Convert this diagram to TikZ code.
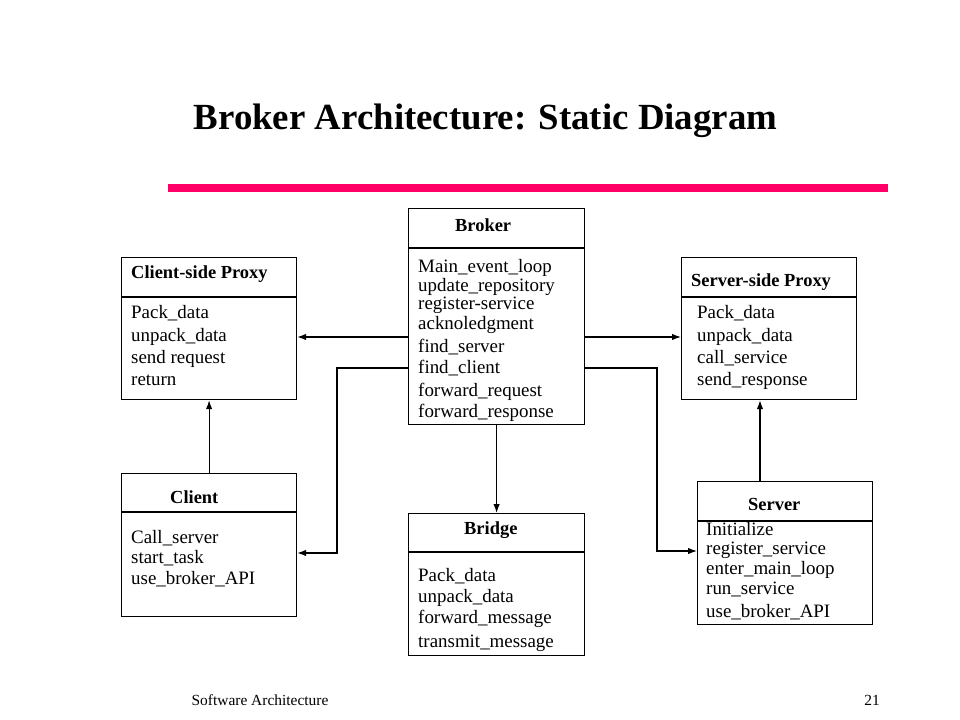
\documentclass[tikz,border=0pt]{standalone}
\usepackage{fontspec}
\setmainfont{Liberation Serif}
\usetikzlibrary{arrows.meta}
\definecolor{slidepink}{RGB}{255,0,102}

\begin{document}
\begin{tikzpicture}[x=1bp, y=-1bp,
    classbox/.style={draw, line width=1.2bp, anchor=north west, inner sep=0pt},
    head/.style={anchor=base west, inner sep=0pt, font=\fontsize{18.5}{20}\selectfont\bfseries},
    item/.style={anchor=base west, inner sep=0pt, font=\fontsize{19}{21}\selectfont},
    >={Latex[length=9bp,width=6.5bp]}]
\useasboundingbox (0,0) rectangle (960,720);
% title and rule
\node[anchor=base, inner sep=0pt, font=\fontsize{37}{40}\selectfont\bfseries] (title) at (485.5,130) {Broker Architecture: Static Diagram};
\draw[slidepink, line width=8bp] (168,188) -- (888,188);

% class boxes
\node[classbox, minimum width=176bp, minimum height=216bp] (broker) at (408,208) {};
\node[classbox, minimum width=175bp, minimum height=142bp] (cproxy) at (121,257) {};
\node[classbox, minimum width=175bp, minimum height=142bp] (sproxy) at (681,257) {};
\node[classbox, minimum width=175bp, minimum height=143bp] (client) at (121,473) {};
\node[classbox, minimum width=176bp, minimum height=142bp] (bridge) at (408,513) {};
\node[classbox, minimum width=175bp, minimum height=143bp] (server) at (697,481) {};
\foreach \b/\y in {broker/248, cproxy/297, sproxy/297, client/512, bridge/552, server/521}
    \draw[line width=1.2bp] (\b.west |- 0,\y) -- (\b.east |- 0,\y);

% headers
\node[head] (broker-h) at (455,231) {Broker};
\node[head] (cproxy-h) at (131,278) {Client-side Proxy};
\node[head] (sproxy-h) at (691,286) {Server-side Proxy};
\node[head] (client-h) at (170,503) {Client};
\node[head] (bridge-h) at (464,534) {Bridge};
\node[head] (server-h) at (748,510) {Server};

% operations
\foreach \t/\y [count=\i] in {Main\_event\_loop/272, update\_repository/291, register-service/309, acknoledgment/329, find\_server/352, find\_client/373, forward\_request/396, forward\_response/417}
    \node[item] (broker-\i) at (418,\y) {\t};
\foreach \t/\y [count=\i] in {Pack\_data/318, unpack\_data/341, send request/363, return/385}
    \node[item] (cproxy-\i) at (131,\y) {\t};
\foreach \t/\y [count=\i] in {Pack\_data/318, unpack\_data/341, call\_service/363, send\_response/385}
    \node[item] (sproxy-\i) at (697,\y) {\t};
\foreach \t/\y [count=\i] in {Call\_server/543, start\_task/563, use\_broker\_API/584}
    \node[item] (client-\i) at (131,\y) {\t};
\foreach \t/\y [count=\i] in {Pack\_data/581, unpack\_data/602, forward\_message/623, transmit\_message/647}
    \node[item] (bridge-\i) at (418,\y) {\t};
\foreach \t/\y [count=\i] in {Initialize/535, register\_service/554, enter\_main\_loop/574, run\_service/594, use\_broker\_API/617}
    \node[item] (server-\i) at (706,\y) {\t};

% associations
\begin{scope}[line width=1.2bp]
    \draw[->] (broker.west |- 0,337) -- (cproxy.east |- 0,337);
    \draw[->] (broker.east |- 0,337) -- (sproxy.west |- 0,337);
    \draw[->] (client.north) -- (cproxy.south);
    \draw[->] (server.north -| 760,0) -- (sproxy.south -| 760,0);
    \draw[->] (broker.south) -- (bridge.north);
    \draw[->] (broker.west |- 0,368) -| (337,553) -- (client.east |- 0,553);
    \draw[->] (broker.east |- 0,368) -| (657,551) -- (server.west |- 0,551);
\end{scope}

% footer
\node[inner sep=0pt, font=\fontsize{15.5}{17}\selectfont] (foot) at (260,700) {Software Architecture};
\node[inner sep=0pt, font=\fontsize{15.5}{17}\selectfont] (page) at (872,700) {21};
\end{tikzpicture}
\end{document}
